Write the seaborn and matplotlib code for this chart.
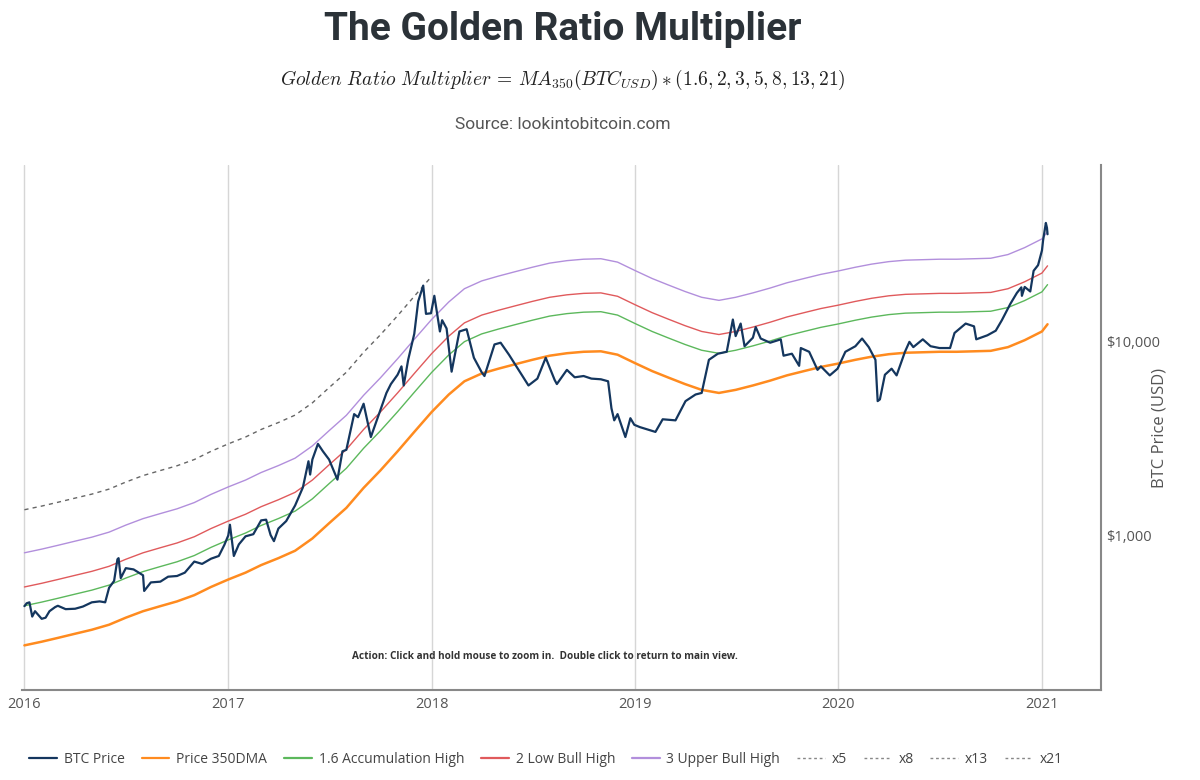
import numpy as np
import pandas as pd
import matplotlib
matplotlib.use("Agg")
import matplotlib.pyplot as plt
import matplotlib.dates as mdates
from matplotlib.ticker import FixedLocator, NullLocator, FuncFormatter
from matplotlib.lines import Line2D
import seaborn as sns

# ---------------- data ----------------
price_dates = [
    "2016-01-01", "2016-01-05", "2016-01-10", "2016-01-15", "2016-01-20", "2016-01-25", "2016-02-01",
    "2016-02-08", "2016-02-15", "2016-02-25",
    "2016-03-01", "2016-03-15", "2016-04-01", "2016-04-15", "2016-05-01", "2016-05-15", "2016-05-25",
    "2016-06-01", "2016-06-10", "2016-06-16", "2016-06-18", "2016-06-22", "2016-07-01", "2016-07-15",
    "2016-08-01", "2016-08-03", "2016-08-15", "2016-09-01", "2016-09-15", "2016-10-01", "2016-10-15",
    "2016-11-01", "2016-11-15", "2016-12-01", "2016-12-15", "2016-12-25",
    "2017-01-01", "2017-01-04", "2017-01-11", "2017-01-20", "2017-02-01", "2017-02-15", "2017-03-01",
    "2017-03-10", "2017-03-18", "2017-03-24", "2017-04-01", "2017-04-15", "2017-05-01", "2017-05-15",
    "2017-05-25", "2017-05-28",
    "2017-06-01", "2017-06-11", "2017-06-20", "2017-07-01", "2017-07-16", "2017-07-25", "2017-08-01",
    "2017-08-15", "2017-08-22", "2017-09-01", "2017-09-14", "2017-10-01", "2017-10-12", "2017-10-20",
    "2017-11-01", "2017-11-08", "2017-11-12", "2017-11-20", "2017-12-01", "2017-12-08", "2017-12-17",
    "2017-12-22", "2017-12-31",
    "2018-01-06", "2018-01-16", "2018-01-20", "2018-01-28", "2018-02-06", "2018-02-20", "2018-03-05",
    "2018-03-18", "2018-04-01", "2018-04-06", "2018-04-24", "2018-05-05", "2018-05-20", "2018-06-01",
    "2018-06-24", "2018-07-10", "2018-07-25", "2018-08-10", "2018-08-14", "2018-09-01", "2018-09-15",
    "2018-10-01", "2018-10-15", "2018-11-01", "2018-11-14", "2018-11-20", "2018-11-25", "2018-12-01",
    "2018-12-15", "2018-12-24", "2018-12-31",
    "2019-01-10", "2019-02-07", "2019-02-20", "2019-03-15", "2019-04-02", "2019-04-20", "2019-05-01",
    "2019-05-14", "2019-05-30", "2019-06-15", "2019-06-26", "2019-07-01", "2019-07-10", "2019-07-17",
    "2019-08-01", "2019-08-06", "2019-08-15", "2019-09-01", "2019-09-20", "2019-09-25", "2019-10-10",
    "2019-10-23", "2019-10-26", "2019-11-10", "2019-11-25", "2019-12-01", "2019-12-17", "2019-12-31",
    "2020-01-14", "2020-02-01", "2020-02-13", "2020-02-25", "2020-03-08", "2020-03-12", "2020-03-16",
    "2020-03-25", "2020-04-06", "2020-04-15", "2020-04-30", "2020-05-08", "2020-05-15", "2020-06-01",
    "2020-06-15", "2020-07-01", "2020-07-20", "2020-07-28", "2020-08-17", "2020-09-01", "2020-09-05",
    "2020-09-25", "2020-10-10", "2020-10-21", "2020-11-05", "2020-11-17", "2020-11-25", "2020-11-26",
    "2020-12-01", "2020-12-11", "2020-12-17", "2020-12-25", "2021-01-01", "2021-01-03", "2021-01-08",
    "2021-01-10", "2021-01-11",
]
btc_price = [
    430, 445, 450, 380, 405, 390, 370,
    375, 405, 425,
    432, 415, 417, 428, 450, 455, 450,
    535, 580, 750, 760, 600, 675, 665,
    620, 515, 570, 575, 610, 615, 640,
    730, 710, 755, 780, 890,
    995, 1130, 780, 895, 985, 1010, 1190,
    1200, 1000, 930, 1080, 1180, 1420, 1760,
    2400, 2050,
    2450, 2950, 2700, 2450, 1930, 2700, 2750,
    4200, 4050, 4750, 3200, 4400, 5400, 6000,
    6700, 7400, 5900, 8000, 10900, 16000, 19300,
    13800, 13900,
    17100, 11200, 12800, 11600, 6950, 11200, 11500,
    8200, 6900, 6600, 9600, 9800, 8500, 7500,
    5900, 6400, 8200, 6300, 6000, 7100, 6500,
    6600, 6400, 6350, 6200, 4500, 3900, 4200,
    3200, 4000, 3700,
    3600, 3400, 3950, 3900, 4900, 5300, 5400,
    8000, 8600, 8800, 12900, 10600, 12300, 9400,
    10400, 11800, 10300, 9800, 10200, 8400, 8600,
    7450, 9200, 8800, 7100, 7400, 6650, 7200,
    8800, 9400, 10300, 9300, 8000, 4900, 5000,
    6700, 7200, 6650, 8800, 9900, 9300, 10200,
    9400, 9200, 9200, 11000, 12300, 11900, 10200,
    10700, 11300, 12800, 15500, 17700, 18900, 17100,
    19000, 18000, 23000, 24600, 29300, 33000, 40600,
    38300, 35500,
]

dma_dates = [
    "2016-01-01", "2016-02-01", "2016-03-01", "2016-04-01", "2016-05-01", "2016-06-01",
    "2016-07-01", "2016-08-01", "2016-09-01", "2016-10-01", "2016-11-01", "2016-12-01",
    "2017-01-01", "2017-02-01", "2017-03-01", "2017-04-01", "2017-05-01", "2017-06-01",
    "2017-07-01", "2017-08-01", "2017-09-01", "2017-10-01", "2017-11-01", "2017-12-01",
    "2018-01-01", "2018-02-01", "2018-03-01", "2018-04-01", "2018-05-01", "2018-06-01",
    "2018-07-01", "2018-08-01", "2018-09-01", "2018-10-01", "2018-11-01", "2018-12-01",
    "2019-01-01", "2019-02-01", "2019-03-01", "2019-04-01", "2019-05-01", "2019-06-01",
    "2019-07-01", "2019-08-01", "2019-09-01", "2019-10-01", "2019-11-01", "2019-12-01",
    "2020-01-01", "2020-02-01", "2020-03-01", "2020-04-01", "2020-05-01", "2020-06-01",
    "2020-07-01", "2020-08-01", "2020-09-01", "2020-10-01", "2020-11-01", "2020-12-01",
    "2021-01-01", "2021-01-11",
]
dma_350 = [
    270, 282, 295, 310, 325, 345,
    375, 405, 430, 455, 490, 540,
    590, 640, 700, 760, 830, 960,
    1150, 1380, 1750, 2150, 2700, 3400,
    4300, 5300, 6200, 6800, 7200, 7600,
    8000, 8400, 8650, 8800, 8850, 8500,
    7700, 7000, 6500, 6000, 5600, 5400,
    5600, 5900, 6250, 6650, 7000, 7350,
    7650, 8000, 8300, 8550, 8700, 8750,
    8800, 8800, 8850, 8900, 9300, 10100,
    11200, 12200,
]

multipliers = [1.6, 2, 3, 5, 8, 13, 21]
band_labels = ["1.6 Accumulation High", "2 Low Bull High", "3 Upper Bull High"]
x5_end = "2018-01-03"
year_ticks = ["2016", "2017", "2018", "2019", "2020", "2021"]
y_ticks = [1000, 10000]

# ---------------- frames ----------------
price_df = pd.DataFrame({"date": pd.to_datetime(price_dates), "value": btc_price})
dma_df = pd.DataFrame({"date": pd.to_datetime(dma_dates), "value": dma_350})

# ---------------- style ----------------
sns.set_theme(style="white")
plt.rcParams["font.family"] = ["Open Sans", "DejaVu Sans"]
plt.rcParams["mathtext.fontset"] = "cm"

fig = plt.figure(figsize=(12, 7.8), dpi=100)
ax = fig.add_axes([0.0185, 0.1154, 0.899, 0.673])

c_btc = "#14365e"
c_dma = "#ff8b1f"
c_green = "#5cb85c"
c_red = "#e05a5c"
c_purple = "#b28fdc"
c_dash = "#666666"

band_colors = [c_green, c_red, c_purple]

# x5 dashed line (visible portion)
x5 = dma_df[dma_df["date"] <= pd.Timestamp(x5_end)].copy()
x5["value"] = x5["value"] * multipliers[3]
sns.lineplot(data=x5, x="date", y="value", ax=ax, color=c_dash, lw=1.0,
             linestyle=(0, (3, 3)), legend=False)

for m, col in zip(multipliers[:3][::-1], band_colors[::-1]):
    band = dma_df.copy()
    band["value"] = band["value"] * m
    sns.lineplot(data=band, x="date", y="value", ax=ax, color=col, lw=1.0, legend=False)

sns.lineplot(data=dma_df, x="date", y="value", ax=ax, color=c_dma, lw=1.8, legend=False)
sns.lineplot(data=price_df, x="date", y="value", ax=ax, color=c_btc, lw=1.6, legend=False)

# ---------------- axes ----------------
ax.set_yscale("log")
ax.set_ylim(159, 80700)
ax.set_xlim(pd.Timestamp("2015-12-28"), pd.Timestamp("2021-04-17"))

ax.yaxis.set_major_locator(FixedLocator(y_ticks))
ax.yaxis.set_minor_locator(NullLocator())
ax.yaxis.set_major_formatter(FuncFormatter(lambda v, p: "${:,.0f}".format(v)))
ax.yaxis.tick_right()
ax.yaxis.set_label_position("right")
ax.tick_params(axis="y", length=0, pad=4, labelsize=10.5, labelcolor="#555555")
ax.set_ylabel("BTC Price (USD)", fontsize=12, color="#555555")
ax.yaxis.set_label_coords(1.047, 0.5)

ax.xaxis.set_major_locator(FixedLocator(mdates.date2num(pd.to_datetime(year_ticks))))
ax.xaxis.set_major_formatter(FuncFormatter(lambda v, p: mdates.num2date(v).strftime("%Y")))
ax.tick_params(axis="x", length=0, pad=5, labelsize=10.5, labelcolor="#555555")
ax.set_xlabel("")

ax.grid(True, axis="x", color="#d6d6d6", lw=1.0)
ax.grid(False, axis="y")
for s in ["top", "left"]:
    ax.spines[s].set_visible(False)
for s in ["bottom", "right"]:
    ax.spines[s].set_color("#888888")
    ax.spines[s].set_linewidth(1.5)

ax.text(0.306, 0.063, "Action: Click and hold mouse to zoom in.  Double click to return to main view.",
        transform=ax.transAxes, fontsize=7.2, fontweight="bold", color="#333333",
        ha="left", va="center")

# ---------------- titles ----------------
fig.text(0.469, 0.962, "The Golden Ratio Multiplier", family=["Roboto", "DejaVu Sans"],
         fontsize=28, fontweight="bold", color="#2b3238", ha="center", va="center")
fig.text(0.469, 0.897,
         r"$Golden\ Ratio\ Multiplier\,=\,MA_{350}(BTC_{USD})*(1.6,2,3,5,8,13,21)$",
         fontsize=14, color="#222222", ha="center", va="center")
fig.text(0.469, 0.84, "Source: lookintobitcoin.com", family=["Roboto", "DejaVu Sans"],
         fontsize=12.5, color="#555555", ha="center", va="center")

# ---------------- legend ----------------
handles = [
    Line2D([], [], color=c_btc, lw=1.6),
    Line2D([], [], color=c_dma, lw=1.6),
    Line2D([], [], color=c_green, lw=1.6),
    Line2D([], [], color=c_red, lw=1.6),
    Line2D([], [], color=c_purple, lw=1.6),
] + [Line2D([], [], color="#888888", lw=1.0, linestyle=(0, (2, 2))) for _ in multipliers[3:]]
labels = ["BTC Price", "Price 350DMA"] + band_labels + ["x%d" % m for m in multipliers[3:]]
fig.legend(handles, labels, loc="center", bbox_to_anchor=(0.455, 0.026), ncol=9, frameon=False,
           fontsize=10, handlelength=2.0, handletextpad=0.5, columnspacing=1.2,
           labelcolor="#444444")

fig.savefig("out.png", dpi=100)
